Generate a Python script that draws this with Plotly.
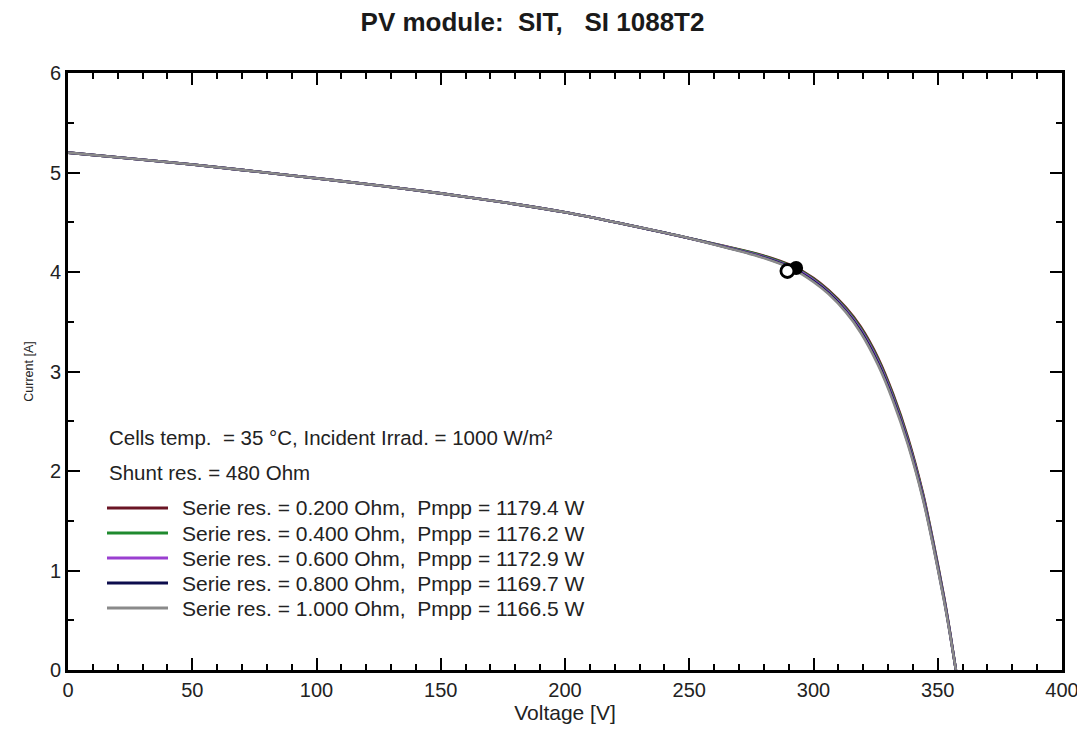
import plotly.graph_objects as go

# ---- data ----
voltage = [0, 25, 50, 90, 125, 150, 178, 200, 226, 250, 265, 279, 292, 300, 306,
           313, 319, 326, 332, 338, 344, 348, 352.5, 355, 357.3]

current_r020 = [5.20, 5.14, 5.08, 4.97, 4.87, 4.79, 4.69, 4.60, 4.47, 4.34, 4.256, 4.172, 4.056,
                3.94, 3.82, 3.644, 3.45, 3.136, 2.776, 2.336, 1.78, 1.314, 0.738, 0.37, 0.00]
current_r040 = [5.20, 5.14, 5.08, 4.97, 4.87, 4.79, 4.69, 4.60, 4.47, 4.34, 4.253, 4.166, 4.048,
                3.93, 3.81, 3.632, 3.435, 3.118, 2.758, 2.318, 1.765, 1.302, 0.729, 0.365, 0.00]
current_r060 = [5.20, 5.14, 5.08, 4.97, 4.87, 4.79, 4.69, 4.60, 4.47, 4.34, 4.25, 4.16, 4.04,
                3.92, 3.80, 3.62, 3.42, 3.10, 2.74, 2.30, 1.75, 1.29, 0.72, 0.36, 0.00]
current_r080 = [5.20, 5.14, 5.08, 4.97, 4.87, 4.79, 4.69, 4.60, 4.47, 4.34, 4.247, 4.154, 4.032,
                3.91, 3.79, 3.608, 3.405, 3.082, 2.722, 2.282, 1.735, 1.278, 0.711, 0.355, 0.00]
current_r100 = [5.20, 5.14, 5.08, 4.97, 4.87, 4.79, 4.69, 4.60, 4.47, 4.34, 4.244, 4.148, 4.024,
                3.90, 3.78, 3.596, 3.39, 3.064, 2.704, 2.264, 1.72, 1.266, 0.702, 0.35, 0.00]

series_names = [
    "Serie res. = 0.200 Ohm,\u00a0\u00a0Pmpp = 1179.4 W",
    "Serie res. = 0.400 Ohm,\u00a0\u00a0Pmpp = 1176.2 W",
    "Serie res. = 0.600 Ohm,\u00a0\u00a0Pmpp = 1172.9 W",
    "Serie res. = 0.800 Ohm,\u00a0\u00a0Pmpp = 1169.7 W",
    "Serie res. = 1.000 Ohm,\u00a0\u00a0Pmpp = 1166.5 W",
]
series_currents = [current_r020, current_r040, current_r060, current_r080, current_r100]
series_colors = ["#6a1524", "#1f8a2e", "#9a3fd0", "#0d0d4d", "#8a8a8a"]

mpp_filled_v, mpp_filled_i = [293.0], [4.04]
mpp_open_v, mpp_open_i = [289.5], [4.01]

header_lines = [
    "Cells temp.\u00a0\u00a0= 35 \u00b0C, Incident Irrad. = 1000 W/m\u00b2",
    "Shunt res. = 480 Ohm",
]

title_text = "PV module:\u00a0\u00a0SIT,\u00a0\u00a0\u00a0SI 1088T2"

FONT = "Liberation Sans, Arial, sans-serif"
OFF = 8  # page body margin in the browser
W, H = 1085 - OFF, 731 - OFF
ML, MT = 68 - OFF, 73 - OFF
MR = W - (1062 - OFF)
MB = H - (670 - OFF)
PW, PH = W - ML - MR, H - MT - MB


def px_x(p):
    return (p - OFF - ML) / PW


def px_y(p):
    return (H - MB - (p - OFF)) / PH


fig = go.Figure()
for name, cur, col in zip(series_names, series_currents, series_colors):
    fig.add_trace(go.Scatter(x=voltage, y=cur, mode="lines", name=name,
                             line=dict(color=col, width=2.6, shape="spline", smoothing=0.8),
                             showlegend=False))

fig.add_trace(go.Scatter(x=mpp_filled_v, y=mpp_filled_i, mode="markers", showlegend=False,
                         marker=dict(size=14, color="black", line=dict(width=0))))
fig.add_trace(go.Scatter(x=mpp_open_v, y=mpp_open_i, mode="markers", showlegend=False,
                         marker=dict(size=13, color="white", line=dict(width=2.8, color="black"))))

TXT = "#222"
annotations = []
shapes = []
for k, txt in enumerate(header_lines):
    annotations.append(dict(x=px_x(107), y=px_y(438 + 35 * k), xref="paper", yref="paper",
                            text=txt, showarrow=False, xanchor="left", yanchor="middle",
                            font=dict(family=FONT, size=20.5, color=TXT)))
for k, (name, col) in enumerate(zip(series_names, series_colors)):
    yy = px_y(508 + 25 * k)
    shapes.append(dict(type="line", xref="paper", yref="paper", x0=px_x(107), x1=px_x(168),
                       y0=yy, y1=yy, line=dict(color=col, width=3)))
    annotations.append(dict(x=px_x(180), y=yy, xref="paper", yref="paper",
                            text=name, showarrow=False, xanchor="left", yanchor="middle",
                            font=dict(family=FONT, size=21, color=TXT)))

axis_common = dict(showgrid=False, zeroline=False, showline=True, linecolor="black", linewidth=3,
                   mirror="allticks", ticks="inside", tickcolor="black", tickwidth=2,
                   ticklen=12, tickfont=dict(family=FONT, size=20, color=TXT))

fig.update_layout(
    width=W, height=H,
    margin=dict(l=ML, r=MR, t=MT, b=MB, autoexpand=False),
    paper_bgcolor="white", plot_bgcolor="white",
    title=dict(text="<b>" + title_text + "</b>", x=(532.5 - OFF) / W, xanchor="center",
               y=1 - (22 - OFF) / H, yanchor="middle",
               font=dict(family=FONT, size=26, color="#1a1a1a")),
    xaxis=dict(range=[0, 400], tick0=0, dtick=50,
               minor=dict(dtick=10, ticks="inside", ticklen=6, tickcolor="black", tickwidth=2),
               title=dict(text="Voltage [V]", standoff=4,
                          font=dict(family=FONT, size=21, color=TXT)),
               **axis_common),
    yaxis=dict(range=[0, 6], tick0=0, dtick=1,
               minor=dict(dtick=0.5, ticks="inside", ticklen=6, tickcolor="black", tickwidth=2),
               title=dict(text="Current [A]", standoff=14,
                          font=dict(family=FONT, size=12.5, color=TXT)),
               **axis_common),
    annotations=annotations, shapes=shapes,
)

fig.write_html("out.html")
